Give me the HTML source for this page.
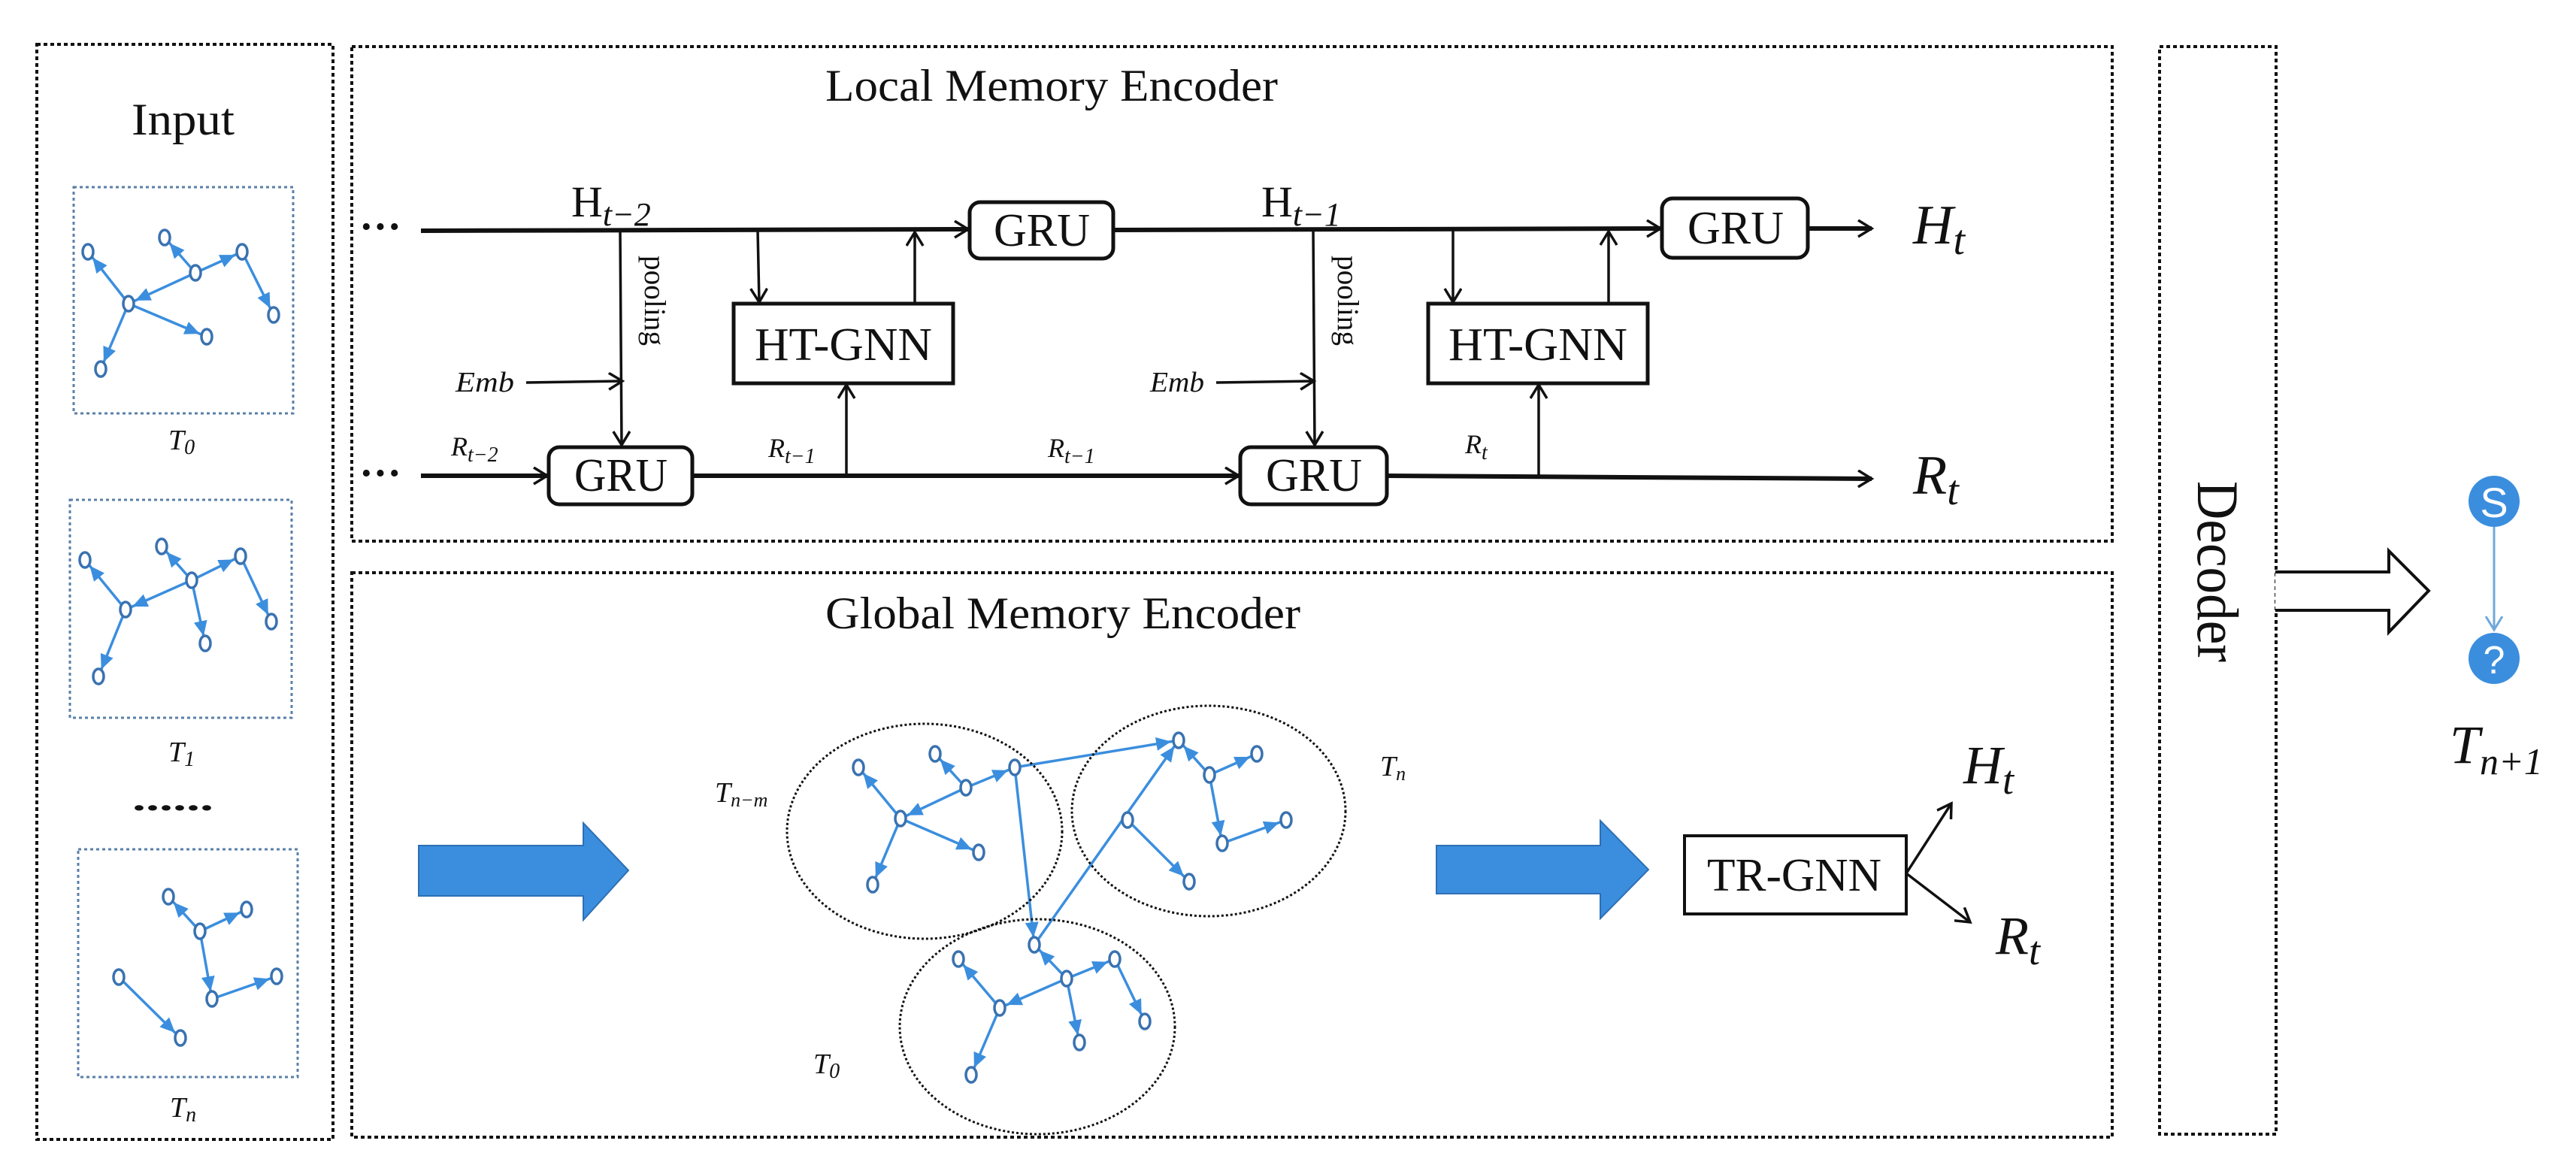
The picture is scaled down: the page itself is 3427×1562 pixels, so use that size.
<!DOCTYPE html>
<html><head><meta charset="utf-8"><style>
html,body{margin:0;padding:0;background:#fff;}
svg{display:block;}
text{font-family:"Liberation Serif",serif;fill:#111;}
.it{font-style:italic;}
</style></head><body>
<svg width="3427" height="1562" viewBox="0 0 3427 1562" xmlns="http://www.w3.org/2000/svg">
<defs>
<marker id="oa" markerUnits="userSpaceOnUse" markerWidth="40" markerHeight="40" refX="20" refY="12" orient="auto">
<path d="M2,1 L20,12 L2,23" fill="none" stroke="#111" stroke-width="3.5"/>
</marker>
<marker id="ba" markerUnits="userSpaceOnUse" markerWidth="50" markerHeight="30" refX="30" refY="9" orient="auto">
<path d="M0,0 L20,9 L0,18 z" fill="#3b8ede"/>
</marker>
<marker id="la" markerUnits="userSpaceOnUse" markerWidth="40" markerHeight="40" refX="18" refY="12" orient="auto">
<path d="M0,1 L18,12 L0,23" fill="none" stroke="#6fa8dc" stroke-width="3"/>
</marker>
</defs>

<!-- dotted frames -->
<g fill="none" stroke="#111" stroke-width="4" stroke-dasharray="5,4">
<rect x="49" y="59" width="394" height="1457"/>
<rect x="468" y="62" width="2342" height="658"/>
<rect x="468" y="762" width="2342" height="751"/>
<rect x="2873" y="62" width="155" height="1447"/>
</g>
<g fill="none" stroke="#5a7fa8" stroke-width="3" stroke-dasharray="4,4">
<rect x="98" y="249" width="292" height="301"/>
<rect x="93" y="665" width="295" height="290"/>
<rect x="104" y="1130" width="292" height="303"/>
</g>

<!-- titles -->
<text x="175" y="179" font-size="60" textLength="137" lengthAdjust="spacingAndGlyphs">Input</text>
<text x="1098" y="134" font-size="60" textLength="602" lengthAdjust="spacingAndGlyphs">Local Memory Encoder</text>
<text x="1098" y="836" font-size="60" textLength="632" lengthAdjust="spacingAndGlyphs">Global Memory Encoder</text>
<text transform="translate(2924,640) rotate(90)" font-size="78" textLength="241" lengthAdjust="spacingAndGlyphs">Decoder</text>

<!-- ellipsis -->
<text x="478" y="320" font-size="56" font-weight="bold">···</text>
<text x="478" y="648" font-size="56" font-weight="bold">···</text>

<!-- local encoder lines -->
<g stroke="#111" fill="none">
<line x1="560" y1="307" x2="1288" y2="305" stroke-width="6" marker-end="url(#oa)"/>
<line x1="1481" y1="306" x2="2209" y2="304" stroke-width="6" marker-end="url(#oa)"/>
<line x1="2405" y1="304" x2="2490" y2="304" stroke-width="6" marker-end="url(#oa)"/>
<line x1="560" y1="633" x2="728" y2="633" stroke-width="6" marker-end="url(#oa)"/>
<line x1="921" y1="633" x2="1648" y2="633" stroke-width="6" marker-end="url(#oa)"/>
<line x1="1845" y1="633" x2="2490" y2="637" stroke-width="6" marker-end="url(#oa)"/>
<g stroke-width="3.5">
<line x1="825" y1="306" x2="827" y2="592" marker-end="url(#oa)"/>
<line x1="700" y1="509" x2="828" y2="507" marker-end="url(#oa)"/>
<line x1="1008" y1="306" x2="1010" y2="402" marker-end="url(#oa)"/>
<line x1="1217" y1="404" x2="1217" y2="309" marker-end="url(#oa)"/>
<line x1="1126" y1="633" x2="1126" y2="512" marker-end="url(#oa)"/>
<line x1="1747" y1="305" x2="1749" y2="592" marker-end="url(#oa)"/>
<line x1="1618" y1="509" x2="1748" y2="507" marker-end="url(#oa)"/>
<line x1="1933" y1="305" x2="1933" y2="402" marker-end="url(#oa)"/>
<line x1="2140" y1="404" x2="2140" y2="308" marker-end="url(#oa)"/>
<line x1="2047" y1="635" x2="2047" y2="512" marker-end="url(#oa)"/>
</g>
</g>

<!-- boxes -->
<g fill="#fff" stroke="#111" stroke-width="5">
<rect x="1290" y="269" width="191" height="75" rx="14"/>
<rect x="2211" y="264" width="194" height="79" rx="14"/>
<rect x="730" y="595" width="191" height="76" rx="14"/>
<rect x="1650" y="595" width="195" height="76" rx="14"/>
<rect x="976" y="404" width="292" height="106"/>
<rect x="1900" y="404" width="292" height="106"/>
<rect x="2241" y="1112" width="295" height="104" stroke-width="4"/>
</g>
<g font-size="62">
<text x="1322" y="327" textLength="128" lengthAdjust="spacingAndGlyphs">GRU</text>
<text x="2245" y="324" textLength="128" lengthAdjust="spacingAndGlyphs">GRU</text>
<text x="764" y="653" textLength="124" lengthAdjust="spacingAndGlyphs">GRU</text>
<text x="1684" y="653" textLength="128" lengthAdjust="spacingAndGlyphs">GRU</text>
<text x="1004" y="479" textLength="236" lengthAdjust="spacingAndGlyphs">HT-GNN</text>
<text x="1927" y="479" textLength="238" lengthAdjust="spacingAndGlyphs">HT-GNN</text>
<text x="2271" y="1185" textLength="232" lengthAdjust="spacingAndGlyphs">TR-GNN</text>
</g>

<!-- labels local -->
<text x="760" y="288" font-size="58">H<tspan class="it" font-size="44" dy="12">t−2</tspan></text>
<text x="1678" y="288" font-size="58">H<tspan class="it" font-size="44" dy="12">t−1</tspan></text>
<text x="2545" y="324" font-size="74" class="it">H<tspan font-size="56" dy="14">t</tspan></text>
<text x="2545" y="657" font-size="74" class="it">R<tspan font-size="56" dy="14">t</tspan></text>
<text x="600" y="606" font-size="36" class="it">R<tspan font-size="28" dy="8">t−2</tspan></text>
<text x="1022" y="608" font-size="36" class="it">R<tspan font-size="28" dy="8">t−1</tspan></text>
<text x="1394" y="608" font-size="36" class="it">R<tspan font-size="28" dy="8">t−1</tspan></text>
<text x="1949" y="603" font-size="36" class="it">R<tspan font-size="28" dy="8">t</tspan></text>
<text x="606" y="521" font-size="38" class="it" textLength="78" lengthAdjust="spacingAndGlyphs">Emb</text>
<text x="1530" y="521" font-size="38" class="it" textLength="72" lengthAdjust="spacingAndGlyphs">Emb</text>
<text transform="translate(858,340) rotate(90)" font-size="40" textLength="120" lengthAdjust="spacingAndGlyphs">pooling</text>
<text transform="translate(1780,340) rotate(90)" font-size="40" textLength="120" lengthAdjust="spacingAndGlyphs">pooling</text>

<!-- input labels -->
<text x="224" y="598" font-size="38" class="it">T<tspan font-size="28" dy="6">0</tspan></text>
<text x="224" y="1013" font-size="38" class="it">T<tspan font-size="28" dy="6">1</tspan></text>
<text x="226" y="1486" font-size="38" class="it">T<tspan font-size="28" dy="6">n</tspan></text>
<text x="176" y="1078" font-size="44" font-weight="bold" textLength="108" lengthAdjust="spacingAndGlyphs">......</text>

<!-- graphs edges -->
<g stroke="#3b8ede" stroke-width="3.5" marker-end="url(#ba)">
<!-- T0 box -->
<line x1="171" y1="404" x2="117" y2="335"/>
<line x1="260" y1="363" x2="219" y2="316"/>
<line x1="260" y1="363" x2="322" y2="335"/>
<line x1="260" y1="363" x2="171" y2="404"/>
<line x1="322" y1="335" x2="364" y2="419"/>
<line x1="171" y1="404" x2="275" y2="448"/>
<line x1="171" y1="404" x2="134" y2="491"/>
<!-- T1 box -->
<line x1="167" y1="811" x2="113" y2="745"/>
<line x1="255" y1="772" x2="215" y2="727"/>
<line x1="255" y1="772" x2="320" y2="740"/>
<line x1="255" y1="772" x2="167" y2="811"/>
<line x1="255" y1="772" x2="273" y2="856"/>
<line x1="320" y1="740" x2="361" y2="827"/>
<line x1="167" y1="811" x2="131" y2="900"/>
<!-- Tn box -->
<line x1="266" y1="1239" x2="224" y2="1193"/>
<line x1="266" y1="1239" x2="328" y2="1210"/>
<line x1="266" y1="1239" x2="282" y2="1329"/>
<line x1="282" y1="1329" x2="368" y2="1299"/>
<line x1="158" y1="1300" x2="240" y2="1381"/>
<!-- Tn-m cluster -->
<line x1="1198" y1="1089" x2="1142" y2="1021"/>
<line x1="1285" y1="1048" x2="1244" y2="1003"/>
<line x1="1285" y1="1048" x2="1350" y2="1021"/>
<line x1="1285" y1="1048" x2="1198" y2="1089"/>
<line x1="1198" y1="1089" x2="1302" y2="1134"/>
<line x1="1198" y1="1089" x2="1161" y2="1177"/>
<!-- Tn cluster -->
<line x1="1609" y1="1031" x2="1568" y2="985"/>
<line x1="1609" y1="1031" x2="1672" y2="1003"/>
<line x1="1609" y1="1031" x2="1626" y2="1122"/>
<line x1="1626" y1="1122" x2="1711" y2="1091"/>
<line x1="1500" y1="1091" x2="1582" y2="1173"/>
<!-- T0 cluster -->
<line x1="1419" y1="1302" x2="1376" y2="1257"/>
<line x1="1419" y1="1302" x2="1483" y2="1276"/>
<line x1="1419" y1="1302" x2="1330" y2="1341"/>
<line x1="1419" y1="1302" x2="1436" y2="1387"/>
<line x1="1483" y1="1276" x2="1523" y2="1359"/>
<line x1="1330" y1="1341" x2="1275" y2="1276"/>
<line x1="1330" y1="1341" x2="1292" y2="1430"/>
<!-- cross -->
<line x1="1350" y1="1021" x2="1568" y2="985"/>
<line x1="1350" y1="1021" x2="1376" y2="1257"/>
<line x1="1376" y1="1257" x2="1568" y2="985"/>
</g>

<!-- nodes -->
<g fill="#fff" stroke="#3a72b0" stroke-width="3.5">
<ellipse cx="117" cy="335" rx="7" ry="10"/><ellipse cx="219" cy="316" rx="7" ry="10"/><ellipse cx="322" cy="335" rx="7" ry="10"/><ellipse cx="260" cy="363" rx="7" ry="10"/><ellipse cx="171" cy="404" rx="7" ry="10"/><ellipse cx="364" cy="419" rx="7" ry="10"/><ellipse cx="275" cy="448" rx="7" ry="10"/><ellipse cx="134" cy="491" rx="7" ry="10"/>
<ellipse cx="113" cy="745" rx="7" ry="10"/><ellipse cx="215" cy="727" rx="7" ry="10"/><ellipse cx="320" cy="740" rx="7" ry="10"/><ellipse cx="255" cy="772" rx="7" ry="10"/><ellipse cx="167" cy="811" rx="7" ry="10"/><ellipse cx="273" cy="856" rx="7" ry="10"/><ellipse cx="361" cy="827" rx="7" ry="10"/><ellipse cx="131" cy="900" rx="7" ry="10"/>
<ellipse cx="224" cy="1193" rx="7" ry="10"/><ellipse cx="328" cy="1210" rx="7" ry="10"/><ellipse cx="266" cy="1239" rx="7" ry="10"/><ellipse cx="158" cy="1300" rx="7" ry="10"/><ellipse cx="368" cy="1299" rx="7" ry="10"/><ellipse cx="282" cy="1329" rx="7" ry="10"/><ellipse cx="240" cy="1381" rx="7" ry="10"/>
<ellipse cx="1142" cy="1021" rx="7" ry="10"/><ellipse cx="1244" cy="1003" rx="7" ry="10"/><ellipse cx="1350" cy="1021" rx="7" ry="10"/><ellipse cx="1285" cy="1048" rx="7" ry="10"/><ellipse cx="1198" cy="1089" rx="7" ry="10"/><ellipse cx="1302" cy="1134" rx="7" ry="10"/><ellipse cx="1161" cy="1177" rx="7" ry="10"/>
<ellipse cx="1568" cy="985" rx="7" ry="10"/><ellipse cx="1672" cy="1003" rx="7" ry="10"/><ellipse cx="1609" cy="1031" rx="7" ry="10"/><ellipse cx="1500" cy="1091" rx="7" ry="10"/><ellipse cx="1626" cy="1122" rx="7" ry="10"/><ellipse cx="1711" cy="1091" rx="7" ry="10"/><ellipse cx="1582" cy="1173" rx="7" ry="10"/>
<ellipse cx="1376" cy="1257" rx="7" ry="10"/><ellipse cx="1275" cy="1276" rx="7" ry="10"/><ellipse cx="1483" cy="1276" rx="7" ry="10"/><ellipse cx="1419" cy="1302" rx="7" ry="10"/><ellipse cx="1330" cy="1341" rx="7" ry="10"/><ellipse cx="1523" cy="1359" rx="7" ry="10"/><ellipse cx="1436" cy="1387" rx="7" ry="10"/><ellipse cx="1292" cy="1430" rx="7" ry="10"/>
</g>

<!-- cluster ellipses -->
<g fill="none" stroke="#111" stroke-width="3" stroke-dasharray="3,3">
<ellipse cx="1230" cy="1106" rx="183" ry="143"/>
<ellipse cx="1608" cy="1079" rx="182" ry="140"/>
<ellipse cx="1380" cy="1366" rx="183" ry="143"/>
</g>
<text x="951" y="1067" font-size="38" class="it">T<tspan font-size="26" dy="6">n−m</tspan></text>
<text x="1836" y="1032" font-size="38" class="it">T<tspan font-size="26" dy="6">n</tspan></text>
<text x="1082" y="1428" font-size="38" class="it">T<tspan font-size="28" dy="6">0</tspan></text>

<!-- blue arrows -->
<path d="M557,1125 L776,1125 L776,1095 L836,1158 L776,1224 L776,1192 L557,1192 Z" fill="#3b8ede" stroke="#2d6fb5" stroke-width="2"/>
<path d="M1911,1125 L2129,1125 L2129,1092 L2193,1157 L2129,1222 L2129,1189 L1911,1189 Z" fill="#3b8ede" stroke="#2d6fb5" stroke-width="2"/>

<!-- TR-GNN outputs -->
<g stroke="#111" stroke-width="3.5" fill="none">
<line x1="2536" y1="1162" x2="2596" y2="1069" marker-end="url(#oa)"/>
<line x1="2536" y1="1162" x2="2621" y2="1227" marker-end="url(#oa)"/>
</g>
<text x="2612" y="1042" font-size="72" class="it">H<tspan font-size="54" dy="14">t</tspan></text>
<text x="2655" y="1269" font-size="72" class="it">R<tspan font-size="54" dy="14">t</tspan></text>

<!-- hollow arrow -->
<path d="M3027,761 L3178,761 L3178,733 L3231,786 L3178,841 L3178,812 L3027,812" fill="#fff" stroke="#111" stroke-width="4"/>

<!-- S and ? nodes -->
<line x1="3318" y1="701" x2="3318" y2="838" stroke="#6fa8dc" stroke-width="3" marker-end="url(#la)"/>
<circle cx="3318" cy="667" r="34" fill="#3b8ede"/>
<text x="3318" y="688" font-size="56" font-family="Liberation Sans" text-anchor="middle" style="fill:#fff;font-family:'Liberation Sans',sans-serif">S</text>
<circle cx="3318" cy="876" r="34" fill="#3b8ede"/>
<text x="3318" y="896" font-size="52" text-anchor="middle" style="fill:#fff;font-family:'Liberation Sans',sans-serif">?</text>
<text x="3259" y="1015" font-size="72" class="it">T<tspan font-size="50" dy="15">n+1</tspan></text>
</svg>
</body></html>
